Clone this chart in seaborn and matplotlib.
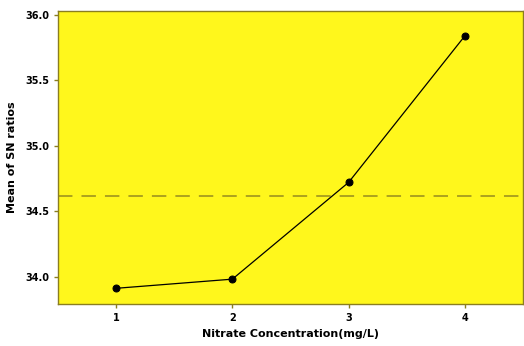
import matplotlib
matplotlib.use("Agg")
import matplotlib.pyplot as plt
import seaborn as sns
import pandas as pd

levels = [1, 2, 3, 4]
sn_means = [33.91, 33.98, 34.72, 35.84]
y_ticks = [34.0, 34.5, 35.0, 35.5, 36.0]
x_tick_labels = ["1", "2", "3", "4"]

sns.set_theme(style="white")
plt.rcParams["font.family"] = ["DejaVu Sans"]

df = pd.DataFrame({"level": levels, "sn": sn_means})
grand_mean = sum(sn_means) / len(sn_means)

fig = plt.figure(figsize=(5.24, 3.46), dpi=100)
ax = fig.add_axes([0.1107, 0.1214, 0.8873, 0.8466])
ax.set_facecolor("#FFF71C")

ax.axhline(grand_mean, color="#A69C1E", lw=1.3, ls=(0, (8, 5)), zorder=1)
sns.lineplot(data=df, x="level", y="sn", ax=ax, color="black", lw=0.9,
             marker="o", markersize=5, markeredgecolor="black", zorder=3)

ax.set_xlim(0.5, 4.5)
ax.set_ylim(33.79, 36.03)
ax.set_xticks(levels)
ax.set_xticklabels(x_tick_labels)
ax.set_yticks(y_ticks)
ax.set_yticklabels([f"{v:.1f}" for v in y_ticks])
ax.tick_params(axis="both", labelsize=7, length=3, width=1, color="#8A7E20",
               labelcolor="black", bottom=True, left=True)
for lbl in ax.get_xticklabels() + ax.get_yticklabels():
    lbl.set_fontweight("bold")

ax.set_xlabel("Nitrate Concentration(mg/L)", fontsize=8, fontweight="bold",
              color="black", labelpad=4)
ax.set_ylabel("Mean of SN ratios", fontsize=8, fontweight="bold",
              color="black", labelpad=6)

for s in ax.spines.values():
    s.set_color("#8A7E20")
    s.set_linewidth(1.0)

fig.savefig("out.png", dpi=100)
